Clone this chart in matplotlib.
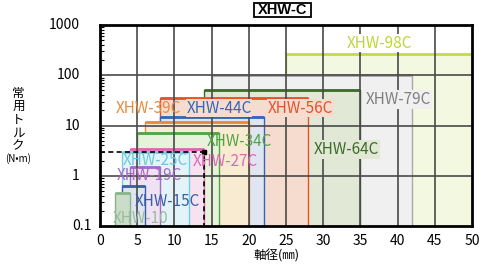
import matplotlib
matplotlib.use("Agg")
import matplotlib.pyplot as plt
from matplotlib.patches import Rectangle
from matplotlib.ticker import LogLocator, NullFormatter
from matplotlib.transforms import blended_transform_factory

plt.rcParams['font.family'] = ['Noto Sans CJK JP', 'DejaVu Sans']

# ---- data ----
names = ["XHW-98C", "XHW-79C", "XHW-64C", "XHW-56C", "XHW-44C", "XHW-39C",
         "XHW-34C", "XHW-27C", "XHW-25C", "XHW-19C", "XHW-15C", "XHW-10"]
shaft_min = [25, 15, 14, 8, 8, 6, 5, 4, 3, 4, 3, 2]
shaft_max = [50, 42, 35, 28, 22, 20, 16, 14, 12, 8, 6, 4]
torque = [270, 100, 52, 36, 14.5, 12, 7, 3.35, 3.0, 1.5, 0.62, 0.45]
label_x = [37.5, 40.1, 33.1, 26.9, 16.0, 6.45, 18.7, 16.8, 7.4, 6.7, 9.1, 5.5]
label_y = [436, 33, 3.29, 22.2, 22.2, 22.2, 4.74, 1.93, 2.05, 0.99, 0.314, 0.142]
ref_torque = 3.0
ref_shaft = 14
xticks = list(range(0, 51, 5))
yticks = [0.1, 1, 10, 100, 1000]
ytick_labels = ["0.1", "1", "10", "100", "1000"]

# ---- style ----
fill_colors = ["#f3f9e0", "#f0f0f0", "#e1e8d5", "#f5dccf", "#dfe6f2", "#f9ebd2",
               "#e6f2da", "#f7e2f0", "#e3f3f8", "#eee2f3", "#dfe5f0", "#c9ddc9"]
line_colors = ["#c6db45", "#a8a8a8", "#3d6b2a", "#e8502a", "#3366bb", "#e88a3a",
               "#4fa545", "#e066b8", "#74cfe6", "#a868c8", "#3a5ea8", "#8ab48a"]
text_colors = ["#bcd63a", "#808080", "#3d6b2a", "#e8502a", "#3366bb", "#e88a3a",
               "#4fa545", "#e066b8", "#6cc8e2", "#a868c8", "#3a5ea8", "#9dbb9d"]
label_bg = ["white", "#f0f0f0", "#e1e8d5", "#f5dccf", "#f5dccf", None,
            None, None, None, None, None, None]

fig = plt.figure(figsize=(4.8, 2.66), dpi=100)
ax = fig.add_axes([100/480, 1-226/266, 372/480, 201/266])
ax.set_yscale('log')
ax.set_xlim(0, 50)
ax.set_ylim(0.1, 1000)

for i, (x0, x1, t) in enumerate(zip(shaft_min, shaft_max, torque)):
    z = 1 + i * 0.05
    ax.fill_between([x0, x1], [0.1, 0.1], [t, t], color=fill_colors[i], lw=0, zorder=z)
    ax.plot([x0, x0, x1, x1], [0.1, t, t, 0.1], color=line_colors[i], lw=1, zorder=z + 0.01)
    ax.plot([x0, x1], [t, t], color=line_colors[i], lw=2, zorder=z + 0.02,
            solid_capstyle='butt')

for x in xticks[1:-1]:
    ax.axvline(x, color='#4a4a4a', lw=1.2, zorder=3)
for y in yticks[1:-1]:
    ax.axhline(y, color='#4a4a4a', lw=1.2, zorder=3)

ax.plot([0, ref_shaft, ref_shaft], [ref_torque, ref_torque, 0.1], color='black',
        lw=1.2, ls=(0, (3, 2)), zorder=3.5)
ax.plot([ref_shaft], [ref_torque], 's', ms=2.5, color='black', zorder=3.6)

for i, n in enumerate(names):
    kw = {}
    if label_bg[i] is not None:
        kw['bbox'] = dict(facecolor=label_bg[i], edgecolor='none', pad=0.5)
    ax.text(label_x[i], label_y[i], n, color=text_colors[i], fontsize=11,
            ha='center', va='center', zorder=6, **kw)

for s in ax.spines.values():
    s.set_linewidth(2)
    s.set_color('black')
    s.set_zorder(10)

ax.set_xticks(xticks)
ax.tick_params(axis='x', length=0, pad=6, labelsize=10)
ax.set_yticks(yticks)
ax.yaxis.set_minor_locator(LogLocator(base=10, subs=range(2, 10)))
ax.yaxis.set_minor_formatter(NullFormatter())
ax.tick_params(axis='y', which='major', length=0, labelleft=False)
ax.tick_params(axis='y', which='minor', direction='in', length=3, width=0.8)

trans = blended_transform_factory(ax.transAxes, ax.transData)
for v, lab in zip(yticks, ytick_labels):
    xpos = -0.0215 if lab == "0.1" else -0.054
    ax.text(xpos, v, lab, ha='right', va='center', fontsize=10, transform=trans)

# title box
fig.patches.append(Rectangle((254/480, 1-17.3/266), 57/480, 14.6/266,
                             transform=fig.transFigure, fill=False, ec='black', lw=1.3))
fig.text(283/480, 1-10.2/266, "XHW-C", family='Liberation Sans', fontweight='bold',
         fontsize=10.5, ha='center', va='center')

# y label stacked
ychars = ["常", "用", "ト", "ル", "ク"]
ypos = [94, 107, 120, 133, 146]
for c, yp in zip(ychars, ypos):
    fig.text(18.5/480, 1-yp/266, c, fontsize=9, ha='center', va='center')
fig.text(18.5/480, 1-159/266, "(N•m)", fontsize=7, ha='center', va='center')

fig.text(276/480, 1-256/266, "軸径(㎜)", fontsize=9, ha='center', va='center')

fig.savefig("out.png", dpi=100)
